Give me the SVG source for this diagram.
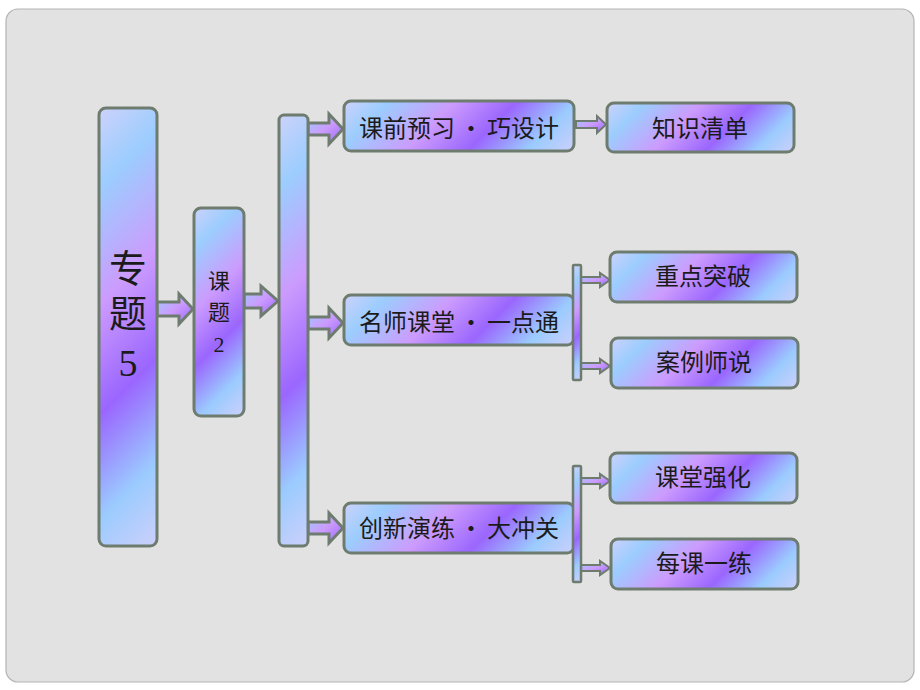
<svg xmlns="http://www.w3.org/2000/svg" xmlns:xlink="http://www.w3.org/1999/xlink" width="920" height="690" viewBox="0 0 920 690">
<defs>
<linearGradient id="g" gradientUnits="userSpaceOnUse">
<stop offset="0" stop-color="#cdd2fb"/>
<stop offset="0.16" stop-color="#9ccdfe"/>
<stop offset="0.40" stop-color="#cc9bfd"/>
<stop offset="0.62" stop-color="#9a66fe"/>
<stop offset="0.83" stop-color="#9bcbfe"/>
<stop offset="1" stop-color="#cdd0fb"/>
</linearGradient>
<linearGradient id="g1" href="#g" xlink:href="#g" x1="99" y1="108" x2="347" y2="356"/>
<linearGradient id="g2" href="#g" xlink:href="#g" x1="194" y1="208" x2="323" y2="337"/>
<linearGradient id="g3" href="#g" xlink:href="#g" x1="279" y1="115" x2="509" y2="345"/>
<linearGradient id="g4" href="#g" xlink:href="#g" x1="344" y1="101" x2="484" y2="241"/>
<linearGradient id="g5" href="#g" xlink:href="#g" x1="607" y1="103" x2="725" y2="221"/>
<linearGradient id="g6" href="#g" xlink:href="#g" x1="344" y1="295" x2="484" y2="435"/>
<linearGradient id="g7" href="#g" xlink:href="#g" x1="573" y1="265" x2="634.5" y2="326.5"/>
<linearGradient id="g8" href="#g" xlink:href="#g" x1="610" y1="252" x2="728.5" y2="370.5"/>
<linearGradient id="g9" href="#g" xlink:href="#g" x1="611" y1="338" x2="729.5" y2="456.5"/>
<linearGradient id="g10" href="#g" xlink:href="#g" x1="344" y1="503" x2="484" y2="643"/>
<linearGradient id="g11" href="#g" xlink:href="#g" x1="573" y1="466" x2="635" y2="528"/>
<linearGradient id="g12" href="#g" xlink:href="#g" x1="610" y1="453" x2="728.5" y2="571.5"/>
<linearGradient id="g13" href="#g" xlink:href="#g" x1="611" y1="539" x2="729.5" y2="657.5"/>
<linearGradient id="ga" x1="0" y1="0" x2="1" y2="1">
<stop offset="0" stop-color="#9ccdfe"/>
<stop offset="0.5" stop-color="#cc9bfd"/>
<stop offset="1" stop-color="#9a66fe"/>
</linearGradient>
<style>
.box{stroke:#6e7c70;stroke-width:3}
.bar{stroke:#6e7c70;stroke-width:2.5}
.arr{fill:url(#ga);stroke:#6e7c70;stroke-width:3;stroke-linejoin:miter}
.sarr{fill:url(#ga);stroke:#6e7c70;stroke-width:2;stroke-linejoin:miter}
.t{font-family:"Noto Sans CJK SC","Liberation Serif",serif;fill:#1b1b1b;text-anchor:middle}
.v{font-family:"Liberation Serif","Noto Sans CJK SC",serif}
.big{font-size:38px}
.mid{font-size:22px}
.lbl{font-size:24px}
</style>
</defs>
<rect x="0" y="0" width="920" height="690" fill="#ffffff"/>
<rect x="6" y="9" width="908" height="673" rx="12" fill="#e2e2e2" stroke="#b4b4b4" stroke-width="1.2"/>

<g id="connectors">
<path class="arr" d="M157,302 H179 V294 L193,309 L179,324 V316 H157 Z"/>
<path class="arr" d="M244,294 H261 V286 L278,301 L261,316 V308 H244 Z"/>
<path class="arr" d="M308,123 H329 V114 L343,129 L329,144 V135 H308 Z"/>
<path class="arr" d="M308,317 H329 V308 L343,323 L329,338 V329 H308 Z"/>
<path class="arr" d="M308,522 H329 V513 L343,528 L329,543 V534 H308 Z"/>
<path class="sarr" d="M576,121 H597 V116 L606,124.5 L597,133 V128 H576 Z"/>
<path class="sarr" d="M581,277 H600 V273 L610,280 L600,287 V283 H581 Z"/>
<path class="sarr" d="M581,363 H600 V359 L610,366 L600,373 V369 H581 Z"/>
<path class="sarr" d="M581,478 H600 V474 L610,481 L600,488 V484 H581 Z"/>
<path class="sarr" d="M581,565 H600 V561 L610,568 L600,575 V571 H581 Z"/>
</g>

<g id="n-zhuanti5">
<rect class="box" fill="url(#g1)" x="99" y="108" width="58" height="438" rx="7"/>
<text class="t v big"><tspan x="128" y="282">专</tspan><tspan x="128" y="327">题</tspan><tspan x="128" y="376">5</tspan></text>
</g>

<g id="n-keti2">
<rect class="box" fill="url(#g2)" x="194" y="208" width="50" height="208" rx="7"/>
<text class="t v mid"><tspan x="219" y="289">课</tspan><tspan x="219" y="320">题</tspan><tspan x="219" y="352">2</tspan></text>
</g>

<g id="n-bar">
<rect class="box" fill="url(#g3)" x="279" y="115" width="29" height="431" rx="5"/>
</g>

<g id="n-kqyx">
<rect class="box" fill="url(#g4)" x="344" y="101" width="230" height="50" rx="7"/>
<text class="t lbl" x="459" y="137">课前预习<tspan dx="4">·</tspan><tspan dx="4">巧设计</tspan></text>
</g>

<g id="n-zsqd">
<rect class="box" fill="url(#g5)" x="607" y="103" width="187" height="49" rx="7"/>
<text class="t lbl" x="700" y="137">知识清单</text>
</g>

<g id="n-msct">
<rect class="box" fill="url(#g6)" x="344" y="295" width="230" height="50" rx="7"/>
<text class="t lbl" x="459" y="331">名师课堂<tspan dx="4">·</tspan><tspan dx="4">一点通</tspan></text>
</g>
<g id="n-bar2">
<rect class="bar" fill="url(#g7)" x="573" y="265" width="8" height="115" rx="1"/>
</g>

<g id="n-zdtp">
<rect class="box" fill="url(#g8)" x="610" y="252" width="187" height="50" rx="7"/>
<text class="t lbl" x="703" y="285">重点突破</text>
</g>

<g id="n-alss">
<rect class="box" fill="url(#g9)" x="611" y="338" width="187" height="50" rx="7"/>
<text class="t lbl" x="704" y="371">案例师说</text>
</g>

<g id="n-cxyl">
<rect class="box" fill="url(#g10)" x="344" y="503" width="230" height="50" rx="7"/>
<text class="t lbl" x="459" y="537">创新演练<tspan dx="4">·</tspan><tspan dx="4">大冲关</tspan></text>
</g>
<g id="n-bar3">
<rect class="bar" fill="url(#g11)" x="573" y="466" width="8" height="116" rx="1"/>
</g>

<g id="n-ktqh">
<rect class="box" fill="url(#g12)" x="610" y="453" width="187" height="50" rx="7"/>
<text class="t lbl" x="703" y="486">课堂强化</text>
</g>

<g id="n-mkyl">
<rect class="box" fill="url(#g13)" x="611" y="539" width="187" height="50" rx="7"/>
<text class="t lbl" x="704" y="572">每课一练</text>
</g>
</svg>
